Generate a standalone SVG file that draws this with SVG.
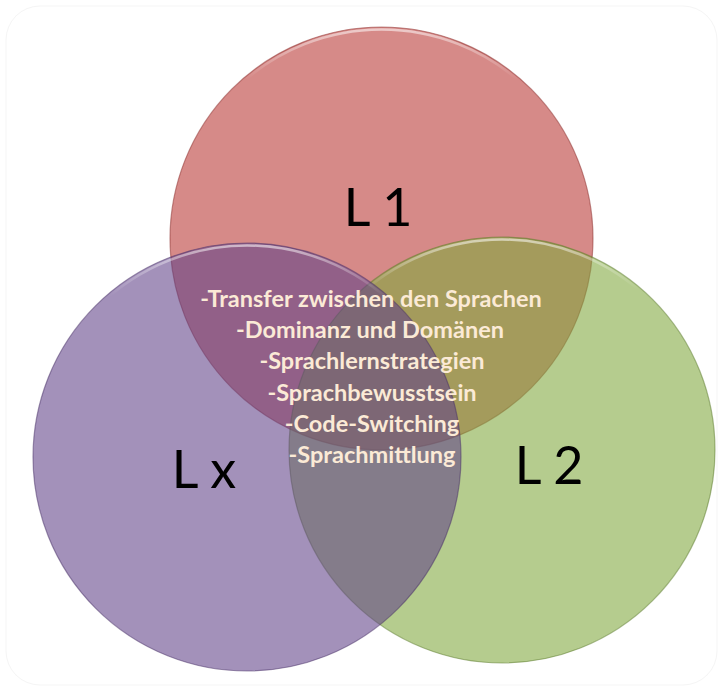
<svg xmlns="http://www.w3.org/2000/svg" width="723" height="691" viewBox="0 0 723 691">
  <defs>
    <linearGradient id="hl" x1="0" y1="0" x2="0" y2="1">
      <stop offset="0" stop-color="#ffffff" stop-opacity="0.55"/>
      <stop offset="0.12" stop-color="#ffffff" stop-opacity="0"/>
      <stop offset="1" stop-color="#ffffff" stop-opacity="0"/>
    </linearGradient>
    <style>
      .circ { fill-opacity: 0.58; stroke-width: 1.2; stroke-opacity: 0.5; }
      .hl { fill: none; stroke: url(#hl); stroke-width: 2.5; }
      .lab { font-family: Lato, "Open Sans", "Liberation Sans", sans-serif; font-size: 52px; fill: #000000; text-anchor: middle; }
      .item { font-family: Lato, "Open Sans", "Liberation Sans", sans-serif; font-weight: bold; font-size: 23.5px; fill: #FBEAD6; text-anchor: middle; }
    </style>
  </defs>
  <rect x="0" y="0" width="723" height="691" fill="#ffffff"/>
  <rect x="6" y="6" width="711" height="679" rx="34" ry="34" fill="none" stroke="#f5f5f5" stroke-width="1"/>

  <g id="L1">
    <circle class="circ" cx="381.5" cy="238.5" r="211.5" fill="#B83532" stroke="#8a2a28"/>
    <circle class="hl" cx="381.5" cy="238.5" r="209"/>
  </g>
  <g id="L2">
    <circle class="circ" cx="502" cy="450" r="213" fill="#7FA73C" stroke="#5a7a2a"/>
    <circle class="hl" cx="502" cy="450" r="210.5"/>
  </g>
  <g id="Lx">
    <circle class="circ" cx="247" cy="457" r="214" fill="#604188" stroke="#4a3268"/>
    <circle class="hl" cx="247" cy="457" r="211.5"/>
  </g>

  <g id="labels">
    <text class="lab" x="378" y="226">L 1</text>
    <text class="lab" x="204" y="488">L x</text>
    <text class="lab" x="549" y="484">L 2</text>
  </g>

  <g id="overlap-text">
    <text class="item" x="371" y="307">-Transfer zwischen den Sprachen</text>
    <text class="item" x="370" y="338">-Dominanz und Domänen</text>
    <text class="item" x="372" y="369">-Sprachlernstrategien</text>
    <text class="item" x="372" y="401">-Sprachbewusstsein</text>
    <text class="item" x="372" y="432">-Code-Switching</text>
    <text class="item" x="372" y="463">-Sprachmittlung</text>
  </g>
</svg>
